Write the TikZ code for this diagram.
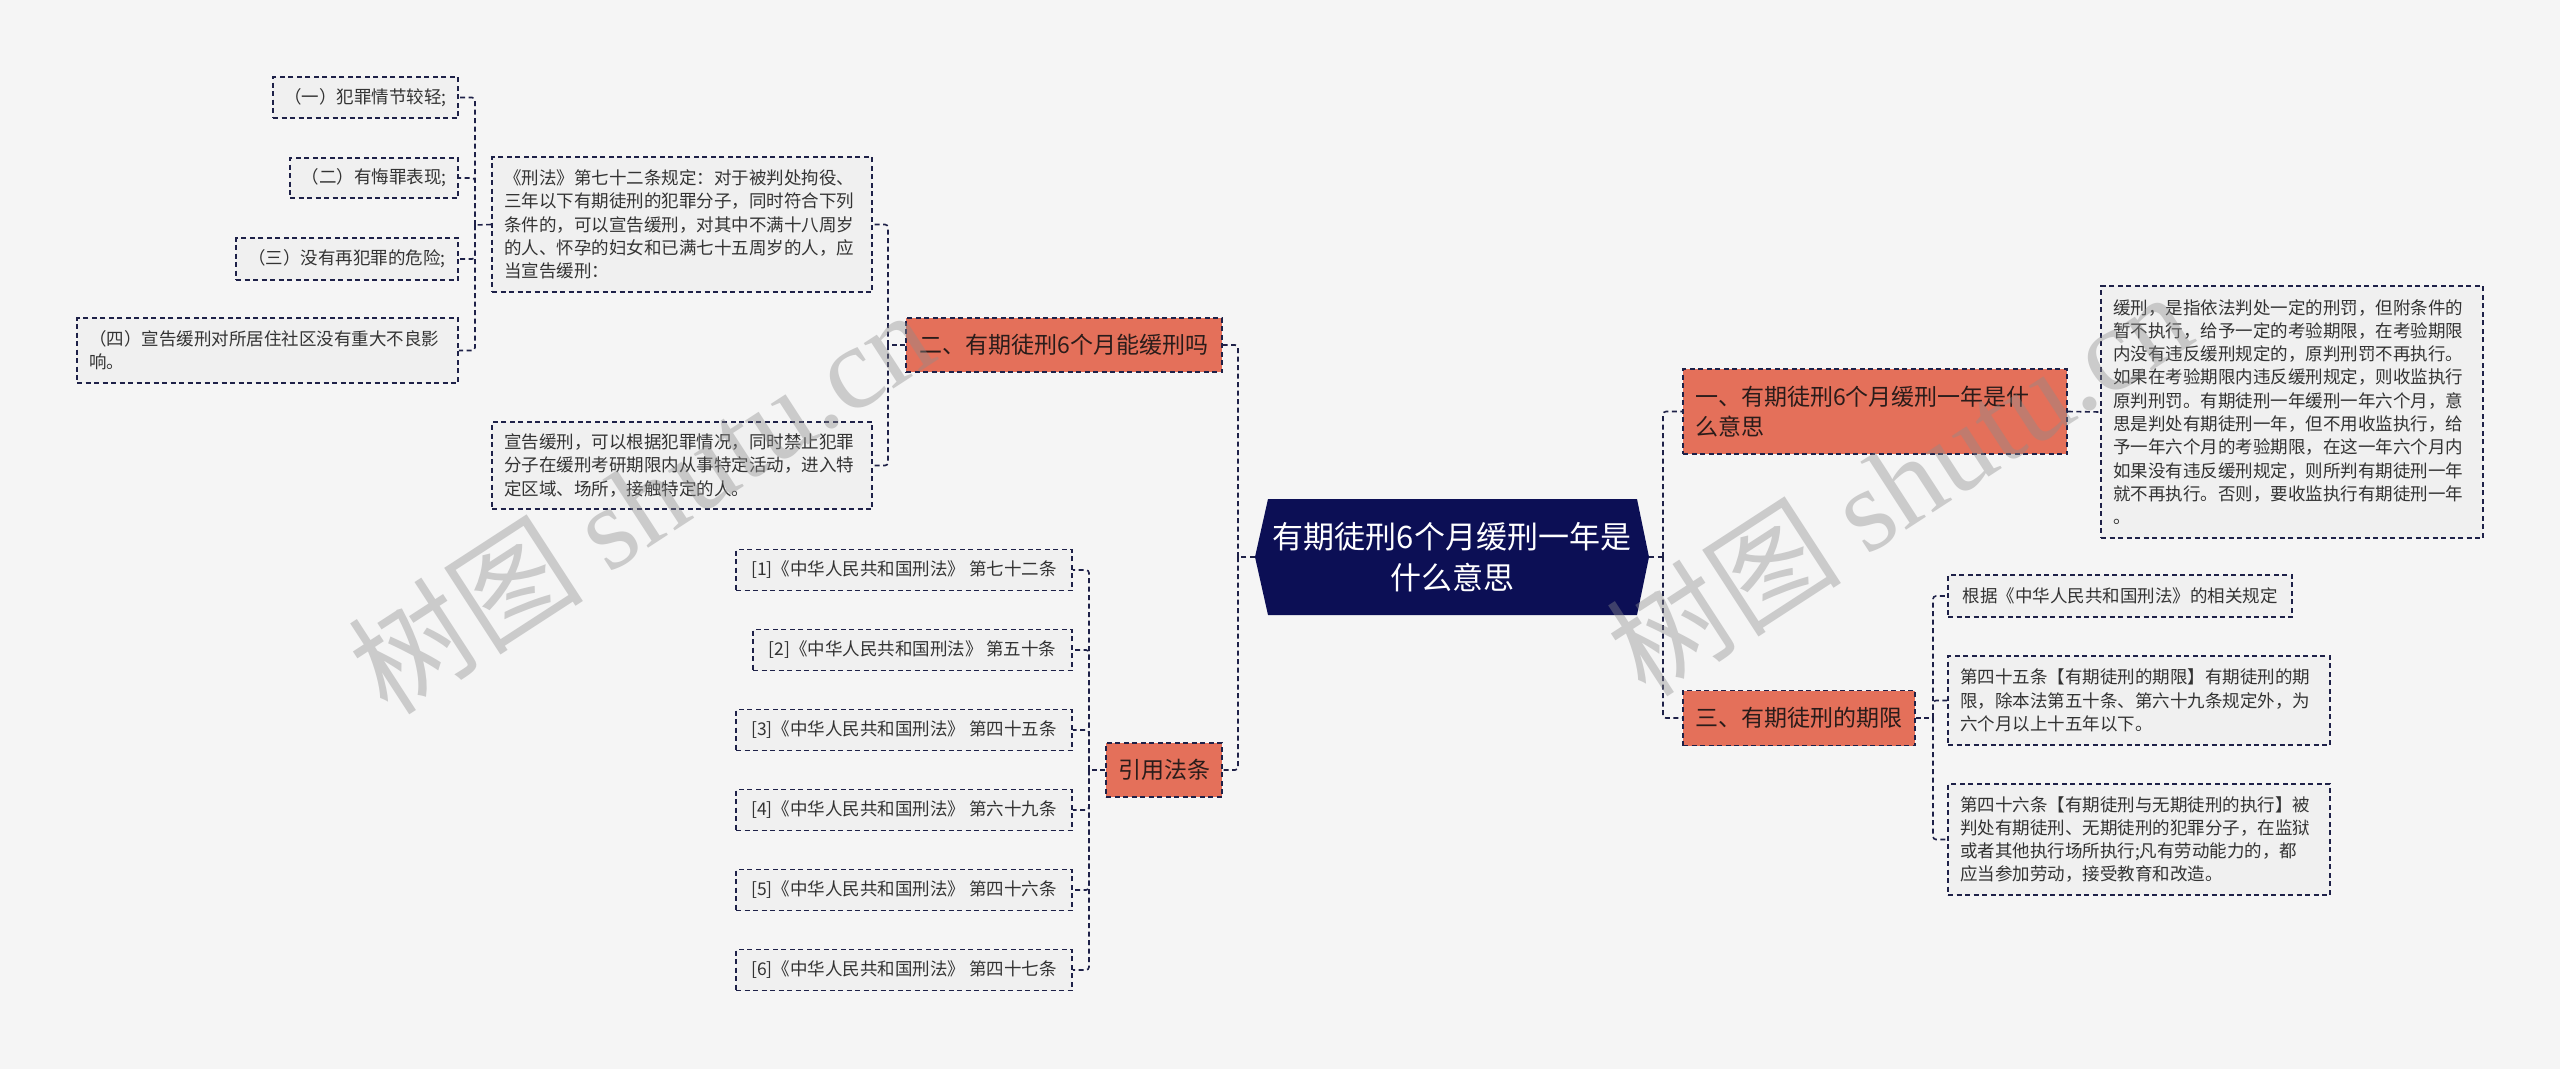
\documentclass[tikz,border=0pt]{standalone}
\usepackage{fontspec}
\setmainfont{Noto Sans CJK SC}
\newfontfamily\wmlat{Liberation Serif}
\definecolor{bg}{HTML}{F5F5F5}
\definecolor{navy}{HTML}{0C0F55}
\definecolor{lnk}{HTML}{1E2148}
\definecolor{org}{HTML}{E4705A}
\definecolor{boxf}{HTML}{F0F0F0}
\definecolor{txt}{HTML}{333333}
\definecolor{otxt}{HTML}{2A1C1A}
\tikzset{
  dsh/.style={dash pattern=on 5pt off 3.5pt, line width=1.6pt, draw=lnk},
  gbox/.style={dsh, fill=boxf, text=txt, font=\fontsize{17.5}{23.3}\selectfont, inner sep=0pt, align=left},
  obox/.style={dsh, fill=org, text=otxt, font=\fontsize{23}{30}\selectfont, inner sep=0pt, align=left},
  conn/.style={dsh, rounded corners=3pt},
  refbox/.style={gbox, minimum height=41pt, align=center},
  wm/.style={rotate=33, text=black!45, opacity=0.4, font=\fontsize{118}{118}\selectfont}
}
\begin{document}
\begin{tikzpicture}[x=1pt,y=-1pt]
\fill[bg] (0,0) rectangle (2560,1069);
\useasboundingbox (0,0) rectangle (2560,1069);

% root
\fill[navy] (1255,557) -- (1268,499) -- (1637,499) -- (1649,557) -- (1637,615) -- (1268,615) -- cycle;
\node[font=\fontsize{31}{41}\selectfont, text=white, align=center, minimum width=394pt, minimum height=116pt, inner sep=0pt] (root) at (1452,557) {有期徒刑6个月缓刑一年是\\什么意思};

% left main branches
\node[obox, minimum width=316pt, minimum height=54pt, align=center] (b2) at (1064,345) {二、有期徒刑6个月能缓刑吗};
\node[obox, minimum width=116pt, minimum height=54pt, align=center] (bref) at (1164,770) {引用法条};

% right main branches
\node[obox, text width=360pt, inner xsep=12pt, minimum height=85pt] (b1) at (1875,411.5) {一、有期徒刑6个月缓刑一年是什\\么意思};
\node[obox, minimum width=232pt, minimum height=55pt, align=center] (b3) at (1799,718) {三、有期徒刑的期限};

% branch 二 children
\node[gbox, text width=356pt, inner xsep=12pt, minimum height=135pt] (law) at (682,224.5) {《刑法》第七十二条规定：对于被判处拘役、\\三年以下有期徒刑的犯罪分子，同时符合下列\\条件的，可以宣告缓刑，对其中不满十八周岁\\的人、怀孕的妇女和已满七十五周岁的人，应\\当宣告缓刑：};
\node[gbox, text width=356pt, inner xsep=12pt, minimum height=87pt] (xuan) at (682,465.5) {宣告缓刑，可以根据犯罪情况，同时禁止犯罪\\分子在缓刑考研期限内从事特定活动，进入特\\定区域、场所，接触特定的人。};

% law children
\node[gbox, minimum width=185pt, minimum height=41pt, align=center] (a1) at (365.5,97.5) {（一）犯罪情节较轻;};
\node[gbox, minimum width=168pt, minimum height=40pt, align=center] (a2) at (374,178) {（二）有悔罪表现;};
\node[gbox, minimum width=222pt, minimum height=42pt, align=center] (a3) at (347,259) {（三）没有再犯罪的危险;};
\node[gbox, text width=357pt, inner xsep=12pt, minimum height=65pt] (a4) at (267.5,350.5) {（四）宣告缓刑对所居住社区没有重大不良影\\响。};

% references
\node[refbox, minimum width=336pt] (f1) at (904,570) {[1]《中华人民共和国刑法》 第七十二条};
\node[refbox, minimum width=319pt] (f2) at (912.5,650) {[2]《中华人民共和国刑法》 第五十条};
\node[refbox, minimum width=336pt] (f3) at (904,730) {[3]《中华人民共和国刑法》 第四十五条};
\node[refbox, minimum width=336pt] (f4) at (904,810) {[4]《中华人民共和国刑法》 第六十九条};
\node[refbox, minimum width=336pt] (f5) at (904,890) {[5]《中华人民共和国刑法》 第四十六条};
\node[refbox, minimum width=336pt] (f6) at (904,970) {[6]《中华人民共和国刑法》 第四十七条};

% right children
\node[gbox, text width=358pt, inner xsep=12pt, minimum height=252pt] (big) at (2292,412) {缓刑，是指依法判处一定的刑罚，但附条件的\\暂不执行，给予一定的考验期限，在考验期限\\内没有违反缓刑规定的，原判刑罚不再执行。\\如果在考验期限内违反缓刑规定，则收监执行\\原判刑罚。有期徒刑一年缓刑一年六个月，意\\思是判处有期徒刑一年，但不用收监执行，给\\予一年六个月的考验期限，在这一年六个月内\\如果没有违反缓刑规定，则所判有期徒刑一年\\就不再执行。否则，要收监执行有期徒刑一年\\。};
\node[gbox, minimum width=344pt, minimum height=42pt, align=center] (g1) at (2120,596) {根据《中华人民共和国刑法》的相关规定};
\node[gbox, text width=358pt, inner xsep=12pt, minimum height=89pt] (g2) at (2139,700.5) {第四十五条【有期徒刑的期限】有期徒刑的期\\限，除本法第五十条、第六十九条规定外，为\\六个月以上十五年以下。};
\node[gbox, text width=358pt, inner xsep=12pt, minimum height=111pt] (g3) at (2139,839.5) {第四十六条【有期徒刑与无期徒刑的执行】被\\判处有期徒刑、无期徒刑的犯罪分子，在监狱\\或者其他执行场所执行;凡有劳动能力的，都\\应当参加劳动，接受教育和改造。};

% connectors left
\coordinate (jL) at (1238,557);
\draw[conn] (root.west) -- (jL);
\draw[conn] (jL) |- (b2.east);
\draw[conn] (jL) |- (bref.east);

\coordinate (j2) at (888,345);
\draw[conn] (b2.west) -- (j2);
\draw[conn] (j2) |- (law.east);
\draw[conn] (j2) |- (xuan.east);

\coordinate (j3) at (475,225);
\draw[conn] (law.west) -- (j3);
\draw[conn] (j3) |- (a1.east);
\draw[conn] (j3) |- (a2.east);
\draw[conn] (j3) |- (a3.east);
\draw[conn] (j3) |- (a4.east);

\coordinate (j4) at (1089,770);
\draw[conn] (bref.west) -- (j4);
\foreach \n in {f1,f2,f3,f4,f5,f6} \draw[conn] (j4) |- (\n.east);

% connectors right
\coordinate (jR) at (1663,557);
\draw[conn] (root.east) -- (jR);
\draw[conn] (jR) |- (b1.west);
\draw[conn] (jR) |- (b3.west);
\draw[conn] (b1.east) -- (big.west);

\coordinate (j5) at (1933,718);
\draw[conn] (b3.east) -- (j5);
\draw[conn] (j5) |- (g1.west);
\draw[conn] (j5) |- (g2.west);
\draw[conn] (j5) |- (g3.west);

% watermarks
\node[wm] (wm1) at (640,500) {树图 {\wmlat shutu.cn}};
\node[wm] (wm2) at (1898,482) {树图 {\wmlat shutu.cn}};
\end{tikzpicture}
\end{document}
